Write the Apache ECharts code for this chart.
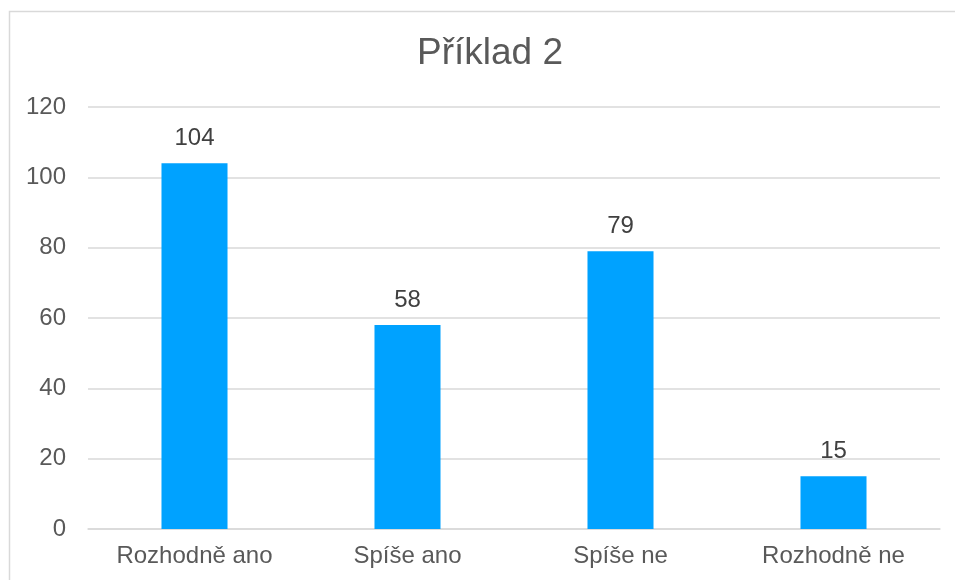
<!DOCTYPE html>
<html>
<head>
<meta charset="utf-8">
<script src="https://cdn.jsdelivr.net/npm/echarts@6/dist/echarts.min.js"></script>
<style>
    html, body { margin: 0; padding: 0; background: #fff; }
    #chart { width: 955px; height: 580px; }
</style>
</head>
<body>
<div id="chart"></div>
<script>
    // data
    var categories = ['Rozhodně ano', 'Spíše ano', 'Spíše ne', 'Rozhodně ne'];
    var counts = [104, 58, 79, 15];
    var yTicks = { min: 0, max: 120, step: 20 };

    var chart = echarts.init(document.getElementById('chart'));
    var font = '"Liberation Sans", Arial, sans-serif';

    var option = {
        animation: false,
        title: {
            text: 'Příklad 2',
            left: 412,
            top: 30,
            textStyle: { fontFamily: font, fontSize: 37, fontWeight: 'normal', color: '#595959' }
        },
        graphic: [{
            type: 'rect',
            shape: { x: 9.5, y: 11.5, width: 980, height: 620 },
            style: { fill: 'none', stroke: '#d9d9d9', lineWidth: 1.5 },
            silent: true
        }],
        grid: { left: 88, right: 15, top: 107, bottom: 51, containLabel: false },
        xAxis: {
            type: 'category',
            data: categories,
            axisTick: { show: false },
            axisLine: { lineStyle: { color: '#d9d9d9', width: 1.5 } },
            axisLabel: { fontFamily: font, fontSize: 24, color: '#595959', margin: 15 }
        },
        yAxis: {
            type: 'value',
            min: yTicks.min,
            max: yTicks.max,
            interval: yTicks.step,
            axisLine: { show: false },
            axisTick: { show: false },
            splitLine: { lineStyle: { color: '#d9d9d9', width: 1.5 } },
            axisLabel: { fontFamily: font, fontSize: 24, color: '#595959', margin: 22 }
        },
        series: [{
            type: 'bar',
            data: counts,
            barWidth: '31%',
            itemStyle: { color: '#00A2FF' },
            label: {
                show: true,
                position: 'top',
                distance: 13,
                fontFamily: font,
                fontSize: 24,
                color: '#404040'
            }
        }]
    };
    chart.setOption(option);
</script>
</body>
</html>
